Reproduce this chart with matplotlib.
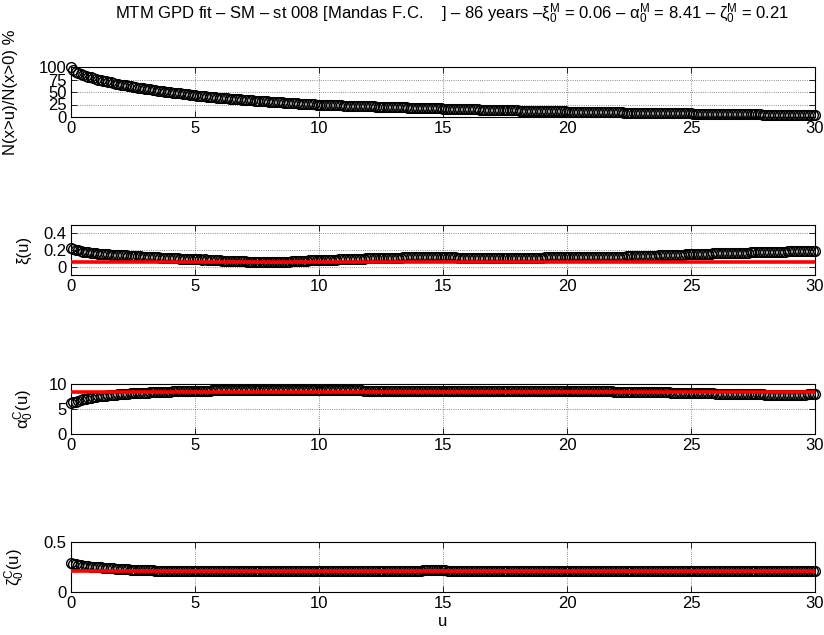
import matplotlib
matplotlib.use("Agg")
import matplotlib.pyplot as plt

main_font = 'Liberation Sans'
plt.rcParams['font.family'] = [main_font, 'DejaVu Sans']
plt.rcParams['mathtext.fontset'] = 'custom'
plt.rcParams['mathtext.rm'] = main_font
plt.rcParams['mathtext.it'] = main_font
plt.rcParams['mathtext.sf'] = main_font
plt.rcParams['mathtext.default'] = 'regular'

# ---------------- data ----------------
u = [0.0, 0.1, 0.2, 0.3, 0.4, 0.5, 0.6, 0.7, 0.8, 0.9,
     1.0, 1.1, 1.2, 1.3, 1.4, 1.5, 1.6, 1.7, 1.8, 1.9,
     2.0, 2.1, 2.2, 2.3, 2.4, 2.5, 2.6, 2.7, 2.8, 2.9,
     3.0, 3.1, 3.2, 3.3, 3.4, 3.5, 3.6, 3.7, 3.8, 3.9,
     4.0, 4.1, 4.2, 4.3, 4.4, 4.5, 4.6, 4.7, 4.8, 4.9,
     5.0, 5.1, 5.2, 5.3, 5.4, 5.5, 5.6, 5.7, 5.8, 5.9,
     6.0, 6.1, 6.2, 6.3, 6.4, 6.5, 6.6, 6.7, 6.8, 6.9,
     7.0, 7.1, 7.2, 7.3, 7.4, 7.5, 7.6, 7.7, 7.8, 7.9,
     8.0, 8.1, 8.2, 8.3, 8.4, 8.5, 8.6, 8.7, 8.8, 8.9,
     9.0, 9.1, 9.2, 9.3, 9.4, 9.5, 9.6, 9.7, 9.8, 9.9,
     10.0, 10.1, 10.2, 10.3, 10.4, 10.5, 10.6, 10.7, 10.8, 10.9,
     11.0, 11.1, 11.2, 11.3, 11.4, 11.5, 11.6, 11.7, 11.8, 11.9,
     12.0, 12.1, 12.2, 12.3, 12.4, 12.5, 12.6, 12.7, 12.8, 12.9,
     13.0, 13.1, 13.2, 13.3, 13.4, 13.5, 13.6, 13.7, 13.8, 13.9,
     14.0, 14.1, 14.2, 14.3, 14.4, 14.5, 14.6, 14.7, 14.8, 14.9,
     15.0, 15.1, 15.2, 15.3, 15.4, 15.5, 15.6, 15.7, 15.8, 15.9,
     16.0, 16.1, 16.2, 16.3, 16.4, 16.5, 16.6, 16.7, 16.8, 16.9,
     17.0, 17.1, 17.2, 17.3, 17.4, 17.5, 17.6, 17.7, 17.8, 17.9,
     18.0, 18.1, 18.2, 18.3, 18.4, 18.5, 18.6, 18.7, 18.8, 18.9,
     19.0, 19.1, 19.2, 19.3, 19.4, 19.5, 19.6, 19.7, 19.8, 19.9,
     20.0, 20.1, 20.2, 20.3, 20.4, 20.5, 20.6, 20.7, 20.8, 20.9,
     21.0, 21.1, 21.2, 21.3, 21.4, 21.5, 21.6, 21.7, 21.8, 21.9,
     22.0, 22.1, 22.2, 22.3, 22.4, 22.5, 22.6, 22.7, 22.8, 22.9,
     23.0, 23.1, 23.2, 23.3, 23.4, 23.5, 23.6, 23.7, 23.8, 23.9,
     24.0, 24.1, 24.2, 24.3, 24.4, 24.5, 24.6, 24.7, 24.8, 24.9,
     25.0, 25.1, 25.2, 25.3, 25.4, 25.5, 25.6, 25.7, 25.8, 25.9,
     26.0, 26.1, 26.2, 26.3, 26.4, 26.5, 26.6, 26.7, 26.8, 26.9,
     27.0, 27.1, 27.2, 27.3, 27.4, 27.5, 27.6, 27.7, 27.8, 27.9,
     28.0, 28.1, 28.2, 28.3, 28.4, 28.5, 28.6, 28.7, 28.8, 28.9,
     29.0, 29.1, 29.2, 29.3, 29.4, 29.5, 29.6, 29.7, 29.8, 29.9,
     30.0]

exceed_pct = [100, 95.0, 91.0, 88.0, 86.0, 84.0, 82.4, 80.8, 79.3, 77.6,
              76.0, 74.8, 73.6, 72.5, 71.4, 70.3, 69.2, 68.1, 67.0, 66.0,
              65.0, 64.1, 63.2, 62.4, 61.5, 60.7, 59.8, 59.0, 58.1, 57.3,
              56.5, 55.8, 55.1, 54.4, 53.7, 53.0, 52.3, 51.6, 50.9, 50.2,
              49.5, 48.9, 48.3, 47.7, 47.1, 46.5, 45.9, 45.3, 44.7, 44.1,
              43.5, 43.0, 42.5, 42.0, 41.5, 41.0, 40.5, 40.0, 39.5, 39.0,
              38.5, 38.1, 37.7, 37.2, 36.8, 36.4, 36.0, 35.6, 35.1, 34.7,
              34.3, 33.9, 33.6, 33.2, 32.8, 32.5, 32.1, 31.8, 31.4, 31.1,
              30.7, 30.4, 30.1, 29.7, 29.4, 29.1, 28.8, 28.5, 28.1, 27.8,
              27.5, 27.2, 26.9, 26.6, 26.4, 26.1, 25.8, 25.5, 25.2, 25.0,
              24.7, 24.5, 24.4, 24.2, 24.0, 23.8, 23.7, 23.5, 23.3, 23.2,
              23.0, 22.8, 22.7, 22.5, 22.4, 22.2, 22.0, 21.9, 21.7, 21.6,
              21.4, 21.2, 21.1, 20.9, 20.8, 20.6, 20.5, 20.3, 20.2, 20.0,
              19.9, 19.7, 19.6, 19.4, 19.3, 19.1, 19.0, 18.8, 18.7, 18.5,
              18.4, 18.3, 18.1, 18.0, 17.8, 17.7, 17.6, 17.4, 17.3, 17.1,
              17.0, 16.9, 16.7, 16.6, 16.4, 16.3, 16.2, 16.0, 15.9, 15.7,
              15.6, 15.5, 15.3, 15.2, 15.1, 14.9, 14.8, 14.7, 14.6, 14.4,
              14.3, 14.2, 14.1, 13.9, 13.8, 13.7, 13.6, 13.5, 13.3, 13.2,
              13.1, 13.0, 12.9, 12.8, 12.7, 12.5, 12.4, 12.3, 12.2, 12.1,
              12.0, 11.9, 11.8, 11.7, 11.6, 11.5, 11.4, 11.3, 11.2, 11.1,
              11.0, 10.9, 10.8, 10.7, 10.6, 10.5, 10.4, 10.3, 10.2, 10.2,
              10.1, 10.0, 9.9, 9.8, 9.7, 9.7, 9.6, 9.5, 9.4, 9.3,
              9.3, 9.2, 9.1, 9.0, 8.9, 8.9, 8.8, 8.7, 8.6, 8.6,
              8.5, 8.4, 8.3, 8.3, 8.2, 8.1, 8.1, 8.0, 7.9, 7.9,
              7.8, 7.7, 7.6, 7.6, 7.5, 7.4, 7.4, 7.3, 7.2, 7.2,
              7.1, 7.0, 6.9, 6.9, 6.8, 6.7, 6.6, 6.6, 6.5, 6.4,
              6.4, 6.3, 6.2, 6.1, 6.1, 6.0, 5.9, 5.8, 5.8, 5.7,
              5.7, 5.6, 5.5, 5.4, 5.4, 5.3, 5.2, 5.1, 5.1, 5.0,
              5.0, 4.9, 4.8, 4.7, 4.7, 4.6, 4.5, 4.4, 4.4, 4.3,
              4.3, 4.2, 4.1, 4.0, 4.0, 3.9, 3.8, 3.7, 3.7, 3.6,
              3.5]

xi_u = [0.230, 0.215, 0.205, 0.198, 0.190, 0.182, 0.178, 0.172, 0.168, 0.165,
        0.160, 0.158, 0.155, 0.152, 0.150, 0.148, 0.146, 0.145, 0.143, 0.141,
        0.140, 0.137, 0.136, 0.133, 0.131, 0.130, 0.128, 0.125, 0.124, 0.122,
        0.120, 0.118, 0.117, 0.114, 0.113, 0.112, 0.110, 0.109, 0.107, 0.106,
        0.105, 0.104, 0.101, 0.100, 0.098, 0.097, 0.095, 0.094, 0.093, 0.091,
        0.090, 0.092, 0.088, 0.086, 0.087, 0.083, 0.082, 0.080, 0.079, 0.077,
        0.075, 0.074, 0.072, 0.071, 0.070, 0.068, 0.067, 0.066, 0.065, 0.064,
        0.063, 0.062, 0.061, 0.060, 0.060, 0.059, 0.058, 0.058, 0.057, 0.057,
        0.057, 0.056, 0.058, 0.057, 0.059, 0.058, 0.060, 0.061, 0.062, 0.064,
        0.066, 0.068, 0.069, 0.071, 0.073, 0.074, 0.076, 0.078, 0.079, 0.081,
        0.082, 0.081, 0.083, 0.084, 0.083, 0.085, 0.086, 0.085, 0.087, 0.087,
        0.088, 0.090, 0.091, 0.092, 0.093, 0.094, 0.095, 0.097, 0.098, 0.099,
        0.100, 0.101, 0.101, 0.102, 0.103, 0.104, 0.104, 0.105, 0.106, 0.107,
        0.108, 0.109, 0.110, 0.110, 0.111, 0.112, 0.113, 0.114, 0.115, 0.116,
        0.117, 0.118, 0.119, 0.120, 0.121, 0.122, 0.122, 0.121, 0.120, 0.119,
        0.118, 0.117, 0.115, 0.114, 0.113, 0.111, 0.110, 0.109, 0.108, 0.107,
        0.106, 0.105, 0.105, 0.104, 0.103, 0.103, 0.102, 0.101, 0.101, 0.100,
        0.100, 0.100, 0.101, 0.101, 0.101, 0.102, 0.102, 0.103, 0.103, 0.104,
        0.104, 0.105, 0.105, 0.106, 0.106, 0.107, 0.108, 0.108, 0.109, 0.109,
        0.110, 0.111, 0.111, 0.112, 0.113, 0.113, 0.114, 0.114, 0.115, 0.115,
        0.116, 0.116, 0.115, 0.115, 0.114, 0.114, 0.113, 0.113, 0.112, 0.112,
        0.112, 0.112, 0.113, 0.114, 0.115, 0.116, 0.116, 0.117, 0.118, 0.119,
        0.120, 0.121, 0.122, 0.122, 0.123, 0.124, 0.125, 0.125, 0.126, 0.127,
        0.128, 0.129, 0.130, 0.131, 0.132, 0.133, 0.134, 0.135, 0.136, 0.137,
        0.138, 0.139, 0.140, 0.141, 0.142, 0.144, 0.145, 0.146, 0.147, 0.149,
        0.150, 0.151, 0.152, 0.153, 0.154, 0.155, 0.156, 0.157, 0.158, 0.159,
        0.160, 0.161, 0.162, 0.162, 0.163, 0.164, 0.165, 0.166, 0.166, 0.167,
        0.168, 0.169, 0.170, 0.170, 0.171, 0.172, 0.173, 0.174, 0.174, 0.175,
        0.176, 0.177, 0.178, 0.178, 0.179, 0.180, 0.181, 0.182, 0.182, 0.183,
        0.184, 0.185, 0.186, 0.186, 0.187, 0.188, 0.188, 0.189, 0.189, 0.190,
        0.190]

alpha_u = [6.2, 6.35, 6.5, 6.65, 6.8, 6.95, 7.05, 7.15, 7.25, 7.4,
           7.5, 7.55, 7.6, 7.65, 7.7, 7.75, 7.8, 7.85, 7.9, 7.95,
           8.0, 8.05, 8.08, 8.1, 8.13, 8.15, 8.18, 8.2, 8.23, 8.25,
           8.28, 8.3, 8.33, 8.35, 8.37, 8.4, 8.42, 8.44, 8.46, 8.48,
           8.5, 8.52, 8.54, 8.55, 8.57, 8.58, 8.6, 8.61, 8.62, 8.63,
           8.64, 8.65, 8.66, 8.67, 8.68, 8.69, 8.7, 8.71, 8.72, 8.73,
           8.74, 8.75, 8.76, 8.77, 8.78, 8.79, 8.8, 8.81, 8.82, 8.83,
           8.84, 8.85, 8.85, 8.86, 8.86, 8.86, 8.86, 8.86, 8.85, 8.85,
           8.85, 8.84, 8.84, 8.84, 8.83, 8.83, 8.83, 8.82, 8.82, 8.81,
           8.81, 8.8, 8.8, 8.8, 8.79, 8.79, 8.78, 8.78, 8.77, 8.77,
           8.76, 8.76, 8.76, 8.75, 8.75, 8.75, 8.74, 8.74, 8.74, 8.73,
           8.73, 8.73, 8.72, 8.72, 8.72, 8.71, 8.71, 8.71, 8.7, 8.7,
           8.7, 8.7, 8.69, 8.69, 8.69, 8.68, 8.68, 8.68, 8.67, 8.67,
           8.66, 8.66, 8.66, 8.65, 8.65, 8.65, 8.64, 8.64, 8.64, 8.63,
           8.63, 8.63, 8.62, 8.62, 8.62, 8.62, 8.63, 8.63, 8.64, 8.65,
           8.66, 8.66, 8.66, 8.67, 8.67, 8.67, 8.68, 8.68, 8.68, 8.68,
           8.68, 8.68, 8.68, 8.67, 8.67, 8.67, 8.66, 8.66, 8.66, 8.66,
           8.65, 8.65, 8.65, 8.64, 8.64, 8.64, 8.63, 8.63, 8.63, 8.62,
           8.62, 8.62, 8.61, 8.61, 8.61, 8.6, 8.6, 8.6, 8.59, 8.59,
           8.58, 8.58, 8.58, 8.57, 8.57, 8.56, 8.56, 8.56, 8.55, 8.55,
           8.55, 8.55, 8.55, 8.55, 8.56, 8.56, 8.56, 8.56, 8.56, 8.55,
           8.55, 8.54, 8.54, 8.53, 8.53, 8.52, 8.52, 8.51, 8.51, 8.5,
           8.49, 8.48, 8.48, 8.47, 8.46, 8.45, 8.44, 8.44, 8.43, 8.42,
           8.41, 8.4, 8.39, 8.38, 8.38, 8.37, 8.36, 8.35, 8.34, 8.33,
           8.32, 8.31, 8.3, 8.29, 8.28, 8.27, 8.26, 8.25, 8.23, 8.22,
           8.2, 8.19, 8.18, 8.17, 8.16, 8.15, 8.14, 8.13, 8.12, 8.11,
           8.1, 8.09, 8.08, 8.07, 8.06, 8.05, 8.04, 8.03, 8.02, 8.01,
           8.0, 7.99, 7.98, 7.97, 7.96, 7.95, 7.94, 7.93, 7.92, 7.91,
           7.9, 7.89, 7.88, 7.88, 7.87, 7.86, 7.86, 7.85, 7.85, 7.85,
           7.85, 7.85, 7.86, 7.86, 7.87, 7.88, 7.9, 7.92, 7.95, 7.97,
           8.0]

zeta_u = [0.29, 0.283, 0.276, 0.27, 0.266, 0.262, 0.259, 0.256, 0.254, 0.252,
          0.25, 0.248, 0.246, 0.244, 0.242, 0.24, 0.238, 0.236, 0.234, 0.232,
          0.23, 0.229, 0.227, 0.226, 0.224, 0.223, 0.222, 0.221, 0.22, 0.219,
          0.218, 0.217, 0.217, 0.216, 0.215, 0.214, 0.214, 0.213, 0.213, 0.212,
          0.212, 0.212, 0.211, 0.211, 0.211, 0.21, 0.21, 0.21, 0.21, 0.21,
          0.21, 0.209, 0.209, 0.209, 0.21, 0.21, 0.209, 0.209, 0.208, 0.208,
          0.208, 0.208, 0.208, 0.209, 0.209, 0.209, 0.21, 0.21, 0.21, 0.21,
          0.209, 0.209, 0.21, 0.21, 0.21, 0.21, 0.21, 0.209, 0.209, 0.209,
          0.209, 0.209, 0.21, 0.21, 0.21, 0.21, 0.21, 0.211, 0.211, 0.211,
          0.211, 0.211, 0.21, 0.21, 0.21, 0.21, 0.21, 0.21, 0.21, 0.21,
          0.21, 0.21, 0.211, 0.211, 0.211, 0.211, 0.212, 0.212, 0.212, 0.212,
          0.212, 0.212, 0.212, 0.212, 0.212, 0.211, 0.211, 0.211, 0.211, 0.211,
          0.212, 0.212, 0.212, 0.212, 0.213, 0.213, 0.213, 0.213, 0.213, 0.213,
          0.213, 0.213, 0.214, 0.214, 0.214, 0.214, 0.215, 0.215, 0.215, 0.215,
          0.215, 0.215, 0.216, 0.216, 0.216, 0.216, 0.217, 0.217, 0.217, 0.217,
          0.217, 0.216, 0.215, 0.214, 0.213, 0.213, 0.212, 0.212, 0.212, 0.211,
          0.211, 0.211, 0.211, 0.21, 0.21, 0.21, 0.21, 0.21, 0.21, 0.21,
          0.21, 0.21, 0.21, 0.209, 0.209, 0.209, 0.209, 0.209, 0.209, 0.209,
          0.209, 0.209, 0.21, 0.21, 0.21, 0.21, 0.21, 0.21, 0.21, 0.21,
          0.21, 0.21, 0.211, 0.211, 0.211, 0.211, 0.211, 0.211, 0.211, 0.211,
          0.212, 0.212, 0.211, 0.211, 0.211, 0.21, 0.21, 0.21, 0.21, 0.21,
          0.209, 0.209, 0.209, 0.209, 0.21, 0.21, 0.21, 0.21, 0.21, 0.21,
          0.21, 0.21, 0.21, 0.211, 0.211, 0.211, 0.211, 0.211, 0.211, 0.211,
          0.212, 0.212, 0.212, 0.212, 0.212, 0.212, 0.212, 0.212, 0.212, 0.212,
          0.211, 0.211, 0.211, 0.211, 0.21, 0.21, 0.21, 0.21, 0.21, 0.21,
          0.21, 0.21, 0.21, 0.21, 0.21, 0.21, 0.21, 0.21, 0.21, 0.21,
          0.209, 0.209, 0.209, 0.209, 0.209, 0.209, 0.21, 0.21, 0.21, 0.21,
          0.21, 0.21, 0.21, 0.21, 0.21, 0.21, 0.21, 0.21, 0.21, 0.21,
          0.21, 0.21, 0.21, 0.21, 0.211, 0.211, 0.211, 0.211, 0.211, 0.211,
          0.211, 0.211, 0.211, 0.212, 0.212, 0.212, 0.212, 0.212, 0.212, 0.212,
          0.212]

xi_M = 0.06
alpha_M = 8.41
zeta_M = 0.21

title_text = ("MTM GPD fit \u2013 SM \u2013 st 008 [Mandas F.C.    ] \u2013 86 years \u2013"
              "$\\xi_0^M$ = 0.06 \u2013 $\\alpha_0^M$ = 8.41 \u2013 $\\zeta_0^M$ = 0.21")

xticks = [0, 5, 10, 15, 20, 25, 30]
panels = [
    dict(y=exceed_pct, ref=None, ylim=(0, 100), yticks=[0, 25, 50, 75, 100],
         yticklabels=['0', '25', '50', '75', '100'], ylabel='N(x>u)/N(x>0) %', lx=11),
    dict(y=xi_u, ref=xi_M, ylim=(-0.1, 0.5), yticks=[0, 0.2, 0.4],
         yticklabels=['0', '0.2', '0.4'], ylabel='\u03be(u)', lx=24),
    dict(y=alpha_u, ref=alpha_M, ylim=(0, 10), yticks=[0, 5, 10],
         yticklabels=['0', '5', '10'], ylabel='$\\alpha_0^C$(u)', lx=24),
    dict(y=zeta_u, ref=zeta_M, ylim=(0, 0.5), yticks=[0, 0.5],
         yticklabels=['0', '0.5'], ylabel='$\\zeta_0^C$(u)', lx=15),
]

W, H = 824, 635
fig = plt.figure(figsize=(W / 100, H / 100), dpi=100)
left_px, right_px = 71, 815
tops_px = [67, 225, 384, 542]
height_px = 50

for i, p in enumerate(panels):
    ax = fig.add_axes([left_px / W, 1 - (tops_px[i] + height_px) / H,
                       (right_px - left_px) / W, height_px / H])
    ax.plot(u, p['y'], linestyle='none', marker='o', markersize=7,
            markerfacecolor='none', markeredgecolor='black', markeredgewidth=1.0,
            clip_on=False, zorder=3)
    if p['ref'] is not None:
        ax.plot([u[0], u[-1]], [p['ref'], p['ref']], color='red', lw=2.6, zorder=4)
    ax.set_xlim(0, 30)
    ax.set_ylim(*p['ylim'])
    ax.set_xticks(xticks)
    ax.set_xticklabels([str(t) for t in xticks])
    ax.set_yticks(p['yticks'])
    ax.set_yticklabels(p['yticklabels'])
    ax.tick_params(direction='in', top=True, right=True, length=4, width=0.6,
                   labelsize=12, pad=3)
    ax.grid(True, linestyle=':', color='black', linewidth=0.6, alpha=0.6)
    ax.set_axisbelow(True)
    for s in ax.spines.values():
        s.set_linewidth(0.8)
    ax.set_ylabel(p['ylabel'], fontsize=12, va='center')
    ax.yaxis.set_label_coords((p['lx'] - left_px) / (right_px - left_px), 0.5)
    if i == 3:
        ax.set_xlabel('u', fontsize=12, labelpad=2)

fig.text(452 / W, 1 - 14 / H, title_text, fontsize=12, ha='center', va='center')

fig.savefig('out.png', dpi=100)
